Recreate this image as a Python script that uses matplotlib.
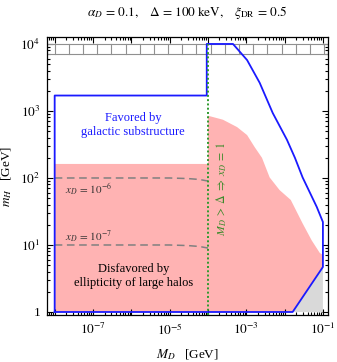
import numpy as np
import matplotlib
matplotlib.use("Agg")
from matplotlib import pyplot as plt
from matplotlib.ticker import LogLocator, FixedLocator, NullFormatter, FuncFormatter

plt.rcParams['font.family'] = ['Liberation Serif', 'DejaVu Serif']
plt.rcParams['mathtext.fontset'] = 'stix'

# favored region (blue outline), M_D [GeV] vs m_H [GeV]
fav_x = [1e-8, 1e-8, 9.3e-5, 9.3e-5, 4.5e-4, 1.05e-3, 2.24e-3, 4.9e-3,
         1.15e-2, 1.86e-2, 2.95e-2, 6.9e-2, 0.1, 0.1, 0.0162, 1e-8]
fav_y = [1, 1700, 1700, 1e4, 1e4, 5750, 2630, 933,
         372, 200, 102, 37, 22, 4.7, 1, 1]

# disfavored by ellipticity (pink)
ell_x = [1e-8, 1e-4, 1e-4, 2.45e-4, 5.75e-4, 1.05e-3, 1.66e-3, 2.57e-3,
         4.07e-3, 7.4e-3, 1.45e-2, 2.95e-2, 5.1e-2, 8.3e-2, 0.1, 0.1, 0.0162, 1e-8]
ell_y = [162, 162, 850, 741, 575, 437, 288, 200,
         102, 66, 47, 21, 11.7, 7.6, 7.1, 4.7, 1, 1]

# grey corner
grey_x = [0.0162, 0.1, 0.1]
grey_y = [1, 4.7, 1]

# x_D contours
xd_x = [1e-8, 1e-5, 3e-5, 6e-5, 1e-4]
xd6_y = [100, 100, 98, 95, 90]
xd7_y = [10, 10, 9.8, 9.5, 9.0]

fig = plt.figure(figsize=(3.37, 3.62), dpi=100)
ax = fig.add_axes([0.1395, 0.1298, 0.8335, 0.768])
ax.set_xscale('log')
ax.set_yscale('log')
ax.set_xlim(10**-8.2, 10**-0.87)
ax.set_ylim(10**-0.045, 10**4.104)

ax.fill(ell_x, ell_y, color='#ffb3b3', lw=0, zorder=1)
ax.fill(grey_x, grey_y, color='#d9d9d9', lw=0, zorder=1)
ax.plot(xd_x, xd6_y, color='#808080', lw=1.1, dashes=(5, 3), zorder=2)
ax.plot(xd_x, xd7_y, color='#808080', lw=1.1, dashes=(5, 3), zorder=2)
ax.plot(fav_x, fav_y, color='#1a1aff', lw=1.3, zorder=3)
ax.plot([1e-4, 1e-4], [10**-0.045, 1e4], color='#2e9a2e', lw=1.4, ls=(0, (1, 1.2)), zorder=4)

# hatched band at the top
ax.fill_between([10**-8.2, 10**-0.87], 7100, 1e4, facecolor='none',
                edgecolor='#909090', lw=0.8, zorder=2)
for lx in np.arange(-8, -0.87, 0.37):
    ax.plot([10**lx, 10**lx], [7100, 1e4], color='#909090', lw=0.8, zorder=2)

fs = 9
ax.text(10**-5.95, 10**2.90, 'Favored by', color='#1a1aff', fontsize=fs, ha='center', va='center')
ax.text(10**-5.95, 10**2.69, 'galactic substructure', color='#1a1aff', fontsize=fs, ha='center', va='center')
ax.text(10**-5.95, 10**0.64, 'Disfavored by', color='black', fontsize=fs, ha='center', va='center')
ax.text(10**-5.95, 10**0.43, 'ellipticity of large halos', color='black', fontsize=fs, ha='center', va='center')
ax.text(10**-7.74, 10**1.83, r'$x_D\,=\,10^{-6}$', fontsize=8, ha='left', va='center', color='#333333')
ax.text(10**-7.74, 10**1.12, r'$x_D\,=\,10^{-7}$', fontsize=8, ha='left', va='center', color='#333333')
ax.text(10**-3.63, 10**1.84, r'$M_D\;>\;\Delta\;\Rightarrow\;x_D\;=\;1$', color='#3a8a2a',
        fontsize=8.5, rotation=90, ha='center', va='center')

ax.xaxis.set_major_locator(FixedLocator([10.0**k for k in range(-8, 0)]))
ax.xaxis.set_minor_locator(LogLocator(base=10, subs=np.arange(2, 10), numticks=20))
ax.xaxis.set_major_formatter(FuncFormatter(
    lambda v, p: r'$10^{%d}$' % round(np.log10(v)) if round(np.log10(v)) % 2 else ''))
ax.xaxis.set_minor_formatter(NullFormatter())
ax.yaxis.set_major_locator(FixedLocator([1, 10, 100, 1000, 1e4]))
ax.yaxis.set_minor_locator(LogLocator(base=10, subs=np.arange(2, 10), numticks=20))
ax.yaxis.set_major_formatter(FuncFormatter(
    lambda v, p: '1' if v == 1 else r'$10^{%d}$' % round(np.log10(v))))
ax.yaxis.set_minor_formatter(NullFormatter())
ax.tick_params(which='both', direction='in', top=True, right=True, labelsize=9.5, width=0.8)
ax.tick_params(which='major', length=4, pad=5)
ax.tick_params(which='minor', length=2)
for s in ax.spines.values():
    s.set_linewidth(0.9)

ax.set_xlabel(r'$M_D\quad$[GeV]', fontsize=9.5, labelpad=7)
ax.set_ylabel(r'$m_H\quad$[GeV]', fontsize=9.5)
ax.yaxis.set_label_coords(-0.118, 0.5)
fig.text(0.555, 0.965, r'$\alpha_D\,=\,0.1,\quad \Delta\,=\,100\;\mathrm{keV},\quad \xi_{\mathrm{DR}}\,=\,0.5$',
         fontsize=9.5, ha='center', va='center')

fig.savefig('out.png', dpi=100)
